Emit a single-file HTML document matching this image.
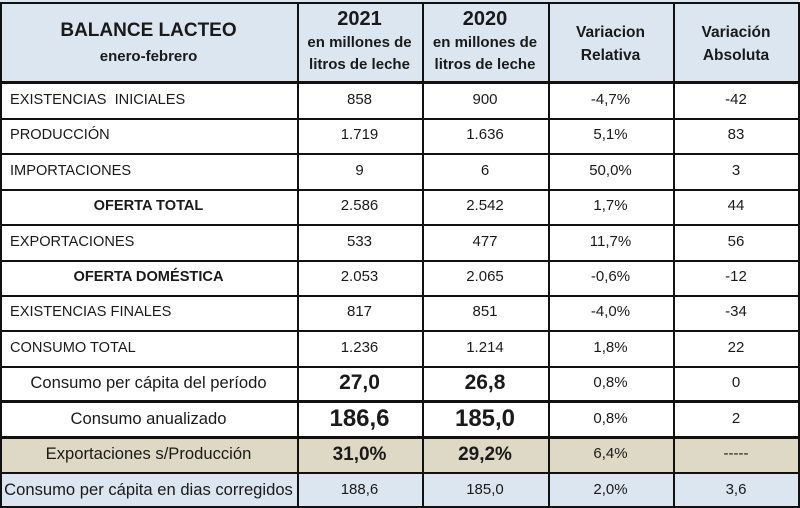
<!DOCTYPE html>
<html><head><meta charset="utf-8">
<style>
html,body{margin:0;padding:0;background:#fff;}
body{width:800px;height:508px;position:relative;overflow:hidden;font-family:"Liberation Sans",sans-serif;color:#1a1a1a;}
.c{position:absolute;display:flex;align-items:center;justify-content:center;text-align:center;box-sizing:border-box;font-size:15px;line-height:1.25;white-space:nowrap;}
.l{justify-content:flex-start;padding-left:10px;font-size:14.6px;}
.b{font-weight:bold;font-size:14.6px;}
.big{font-weight:bold;font-size:21px;}
.sp{font-size:16.6px;}
.hl{position:absolute;background:#111;}
</style></head><body>
<div id="t">
</div>
<script>
var cols=[0,297,422,548,673,799];
var rowTops=[82,118,153,189,224,260,295,330,366,401,437,472,508];
</script>

<div class="c" style="left:0;top:0;width:297px;height:82px;background:#dce6f1;flex-direction:column;font-weight:bold;">
<div style="font-size:19px;margin-top:4px;">BALANCE LACTEO</div><div style="font-size:15px;margin-top:5px;">enero-febrero</div></div>
<div class="c" style="left:297px;top:0;width:125px;height:82px;background:#dce6f1;flex-direction:column;font-weight:bold;">
<div style="font-size:20px;">2021</div><div style="font-size:15px;line-height:22px;">en millones de<br>litros de leche</div></div>
<div class="c" style="left:422px;top:0;width:126px;height:82px;background:#dce6f1;flex-direction:column;font-weight:bold;">
<div style="font-size:20px;">2020</div><div style="font-size:15px;line-height:22px;">en millones de<br>litros de leche</div></div>
<div class="c" style="left:548px;top:0;width:125px;height:82px;background:#dce6f1;font-weight:bold;font-size:15.5px;line-height:23px;padding-top:6px;">Variacion<br>Relativa</div>
<div class="c" style="left:673px;top:0;width:126px;height:82px;background:#dce6f1;font-weight:bold;font-size:15.5px;line-height:23px;padding-top:6px;">Variación<br>Absoluta</div>

<div>
<div class="c l" style="left:0;top:82px;width:297px;height:36px;">EXISTENCIAS&nbsp; INICIALES</div>
<div class="c" style="left:297px;top:82px;width:125px;height:36px;">858</div>
<div class="c" style="left:422px;top:82px;width:126px;height:36px;">900</div>
<div class="c" style="left:548px;top:82px;width:125px;height:36px;">-4,7%</div>
<div class="c" style="left:673px;top:82px;width:126px;height:36px;">-42</div></div>

<div>
<div class="c l" style="left:0;top:118px;width:297px;height:35px;">PRODUCCIÓN</div>
<div class="c" style="left:297px;top:118px;width:125px;height:35px;">1.719</div>
<div class="c" style="left:422px;top:118px;width:126px;height:35px;">1.636</div>
<div class="c" style="left:548px;top:118px;width:125px;height:35px;">5,1%</div>
<div class="c" style="left:673px;top:118px;width:126px;height:35px;">83</div></div>

<div>
<div class="c l" style="left:0;top:153px;width:297px;height:36px;">IMPORTACIONES</div>
<div class="c" style="left:297px;top:153px;width:125px;height:36px;">9</div>
<div class="c" style="left:422px;top:153px;width:126px;height:36px;">6</div>
<div class="c" style="left:548px;top:153px;width:125px;height:36px;">50,0%</div>
<div class="c" style="left:673px;top:153px;width:126px;height:36px;">3</div></div>

<div>
<div class="c b" style="left:0;top:189px;width:297px;height:35px;">OFERTA TOTAL</div>
<div class="c" style="left:297px;top:189px;width:125px;height:35px;">2.586</div>
<div class="c" style="left:422px;top:189px;width:126px;height:35px;">2.542</div>
<div class="c" style="left:548px;top:189px;width:125px;height:35px;">1,7%</div>
<div class="c" style="left:673px;top:189px;width:126px;height:35px;">44</div></div>

<div>
<div class="c l" style="left:0;top:224px;width:297px;height:36px;">EXPORTACIONES</div>
<div class="c" style="left:297px;top:224px;width:125px;height:36px;">533</div>
<div class="c" style="left:422px;top:224px;width:126px;height:36px;">477</div>
<div class="c" style="left:548px;top:224px;width:125px;height:36px;">11,7%</div>
<div class="c" style="left:673px;top:224px;width:126px;height:36px;">56</div></div>

<div>
<div class="c b" style="left:0;top:260px;width:297px;height:35px;">OFERTA DOMÉSTICA</div>
<div class="c" style="left:297px;top:260px;width:125px;height:35px;">2.053</div>
<div class="c" style="left:422px;top:260px;width:126px;height:35px;">2.065</div>
<div class="c" style="left:548px;top:260px;width:125px;height:35px;">-0,6%</div>
<div class="c" style="left:673px;top:260px;width:126px;height:35px;">-12</div></div>

<div>
<div class="c l" style="left:0;top:295px;width:297px;height:35px;">EXISTENCIAS FINALES</div>
<div class="c" style="left:297px;top:295px;width:125px;height:35px;">817</div>
<div class="c" style="left:422px;top:295px;width:126px;height:35px;">851</div>
<div class="c" style="left:548px;top:295px;width:125px;height:35px;">-4,0%</div>
<div class="c" style="left:673px;top:295px;width:126px;height:35px;">-34</div></div>

<div>
<div class="c l" style="left:0;top:330px;width:297px;height:36px;">CONSUMO TOTAL</div>
<div class="c" style="left:297px;top:330px;width:125px;height:36px;">1.236</div>
<div class="c" style="left:422px;top:330px;width:126px;height:36px;">1.214</div>
<div class="c" style="left:548px;top:330px;width:125px;height:36px;">1,8%</div>
<div class="c" style="left:673px;top:330px;width:126px;height:36px;">22</div></div>

<div>
<div class="c sp" style="left:0;top:366px;width:297px;height:35px;">Consumo per cápita del período</div>
<div class="c big" style="left:297px;top:366px;width:125px;height:35px;">27,0</div>
<div class="c big" style="left:422px;top:366px;width:126px;height:35px;">26,8</div>
<div class="c" style="left:548px;top:366px;width:125px;height:35px;">0,8%</div>
<div class="c" style="left:673px;top:366px;width:126px;height:35px;">0</div></div>

<div>
<div class="c sp" style="left:0;top:401px;width:297px;height:36px;">Consumo anualizado</div>
<div class="c big" style="left:297px;top:401px;width:125px;height:36px;font-size:24px;">186,6</div>
<div class="c big" style="left:422px;top:401px;width:126px;height:36px;font-size:24px;">185,0</div>
<div class="c" style="left:548px;top:401px;width:125px;height:36px;">0,8%</div>
<div class="c" style="left:673px;top:401px;width:126px;height:36px;">2</div></div>

<div>
<div class="c sp" style="left:0;top:437px;width:297px;height:35px;background:#ddd9c4;">Exportaciones s/Producción</div>
<div class="c big" style="left:297px;top:437px;width:125px;height:35px;background:#ddd9c4;font-size:19px;">31,0%</div>
<div class="c big" style="left:422px;top:437px;width:126px;height:35px;background:#ddd9c4;font-size:19px;">29,2%</div>
<div class="c" style="left:548px;top:437px;width:125px;height:35px;background:#ddd9c4;">6,4%</div>
<div class="c" style="left:673px;top:437px;width:126px;height:35px;background:#ddd9c4;">-----</div></div>

<div>
<div class="c sp" style="left:0;top:472px;width:297px;height:36px;background:#dce6f1;">Consumo per cápita en dias corregidos</div>
<div class="c" style="left:297px;top:472px;width:125px;height:36px;background:#dce6f1;">188,6</div>
<div class="c" style="left:422px;top:472px;width:126px;height:36px;background:#dce6f1;">185,0</div>
<div class="c" style="left:548px;top:472px;width:125px;height:36px;background:#dce6f1;">2,0%</div>
<div class="c" style="left:673px;top:472px;width:126px;height:36px;background:#dce6f1;">3,6</div></div>

<script>
(function(){
  var body=document.body;
  for(var i=0;i<cols.length;i++){
    var v=document.createElement('div');
    v.className='hl';
    
    
    var x=cols[i]; if(i===cols.length-1)x=798;
    v.style.left=x+'px';v.style.top='2px';v.style.width='1.5px';v.style.height='506px';
    body.appendChild(v);
  }
  var tb=document.createElement('div');
  tb.className='hl';
  
  
  tb.style.left='0';tb.style.top='2px';tb.style.width='800px';tb.style.height='1.5px';
  body.appendChild(tb);
  for(var j=0;j<rowTops.length;j++){
    var y=rowTops[j];
    var thick=(y===82||y===401||y===437);
    var h=document.createElement('div');
    h.className='hl';
    
    
    if(y===508)y=506;
    h.style.left='0';h.style.width='800px';
    h.style.top=(thick?y-1:y)+'px';
    h.style.height=(thick?3:1.5)+'px';
    body.appendChild(h);
  }
})();
</script>
</body></html>
